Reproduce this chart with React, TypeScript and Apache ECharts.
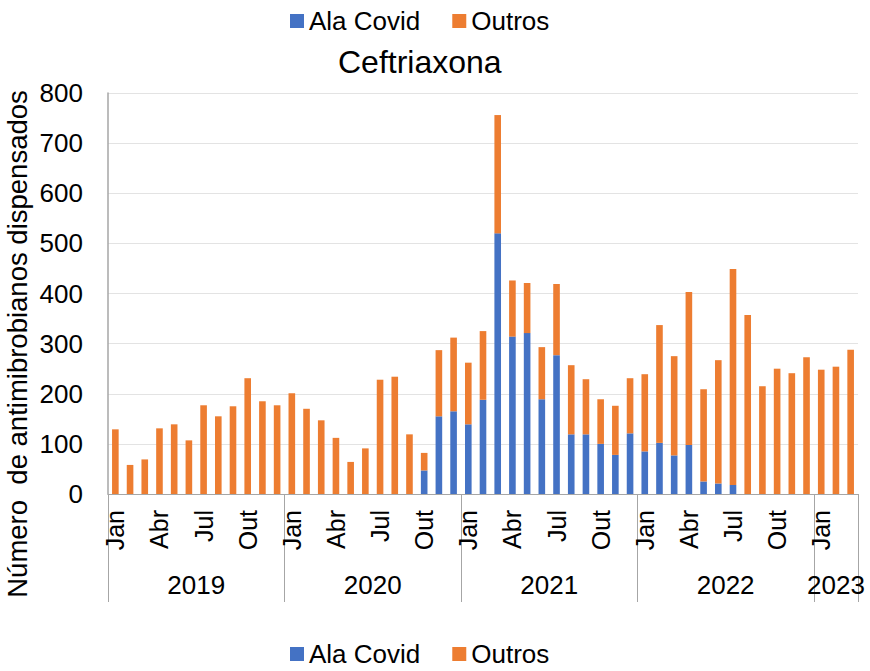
import React, { useEffect, useRef } from "react";
import * as echarts from "echarts";

// Monthly ceftriaxone dispensing, Jan 2019 – Mar 2023
const monthNames = ["Jan", "Fev", "Mar", "Abr", "Mai", "Jun", "Jul", "Ago", "Set", "Out", "Nov", "Dez"];
const years = ["2019", "2020", "2021", "2022", "2023"];
const monthsPerYear = [12, 12, 12, 12, 3];

const alaCovid = [
  0, 0, 0, 0, 0, 0, 0, 0, 0, 0, 0, 0,
  0, 0, 0, 0, 0, 0, 0, 0, 0, 47, 155, 165,
  139, 188, 520, 314, 321, 189, 277, 119, 119, 100, 78, 121,
  85, 102, 77, 98, 25, 21, 18, 0, 0, 0, 0, 0,
  0, 0, 0,
];

const outros = [
  129, 58, 69, 131, 139, 107, 177, 155, 175, 231, 185, 177,
  201, 170, 147, 112, 64, 91, 228, 234, 119, 35, 132, 147,
  123, 137, 236, 112, 100, 104, 142, 138, 110, 89, 98, 110,
  154, 235, 198, 305, 184, 246, 431, 357, 215, 250, 241, 273,
  248, 254, 288,
];

const yTicks = { min: 0, max: 800, step: 100 };

const FONT = "'Liberation Sans', Arial, Helvetica, sans-serif";
const BLUE = "#4472C4";
const ORANGE = "#ED7D31";
const AXIS_GREY = "#a6a6a6";

export default function App() {
  const ref = useRef<HTMLDivElement>(null);

  useEffect(() => {
    if (!ref.current) return;
    const chart = echarts.init(ref.current, undefined, { renderer: "svg" });

    const categories: string[] = [];
    monthsPerYear.forEach((n, yi) => {
      for (let m = 0; m < n; m++) categories.push(`${monthNames[m]} ${years[yi]}`);
    });
    const total = categories.length;

    // year boundaries and centres on a 0..total value scale
    const boundaries: number[] = [0];
    const centres: number[] = [];
    monthsPerYear.forEach((n) => {
      const start = boundaries[boundaries.length - 1];
      centres.push(start + n / 2);
      boundaries.push(start + n);
    });

    const legendBase = {
      left: 285,
      icon: "rect",
      itemWidth: 14,
      itemHeight: 14,
      itemGap: 32,
      textStyle: { fontFamily: FONT, fontSize: 26, color: "#000" },
      data: ["Ala Covid", "Outros"],
    };

    chart.setOption({
      animation: false,
      backgroundColor: "#ffffff",
      textStyle: { fontFamily: FONT },
      title: {
        text: "Ceftriaxona",
        left: 333,
        top: 41,
        textStyle: { fontFamily: FONT, fontSize: 32, fontWeight: "normal", color: "#000" },
      },
      legend: [
        { ...legendBase, top: 3 },
        { ...legendBase, top: 636 },
      ],
      grid: { left: 108, right: 12, top: 93, bottom: 177, containLabel: false },
      xAxis: [
        {
          type: "category",
          data: categories,
          boundaryGap: true,
          axisLine: { show: true, lineStyle: { color: AXIS_GREY, width: 1 } },
          axisTick: { show: false },
          axisLabel: {
            interval: (index: number) => index % 3 === 0,
            formatter: (v: string) => v.split(" ")[0],
            rotate: 90,
            margin: 16,
            fontFamily: FONT,
            fontSize: 25,
            color: "#000",
          },
          splitLine: { show: false },
        },
        {
          type: "value",
          position: "bottom",
          min: 0,
          max: total,
          axisLine: { show: false },
          splitLine: { show: false },
          axisTick: {
            show: true,
            inside: false,
            length: 108,
            customValues: boundaries,
            lineStyle: { color: AXIS_GREY, width: 1 },
          },
          axisLabel: {
            customValues: centres,
            formatter: (v: number) => {
              const i = centres.findIndex((c) => Math.abs(c - v) < 1e-6);
              return i >= 0 ? years[i] : "";
            },
            margin: 78,
            fontFamily: FONT,
            fontSize: 26,
            color: "#000",
          },
        },
      ],
      yAxis: {
        type: "value",
        min: yTicks.min,
        max: yTicks.max,
        interval: yTicks.step,
        axisLine: { show: true, lineStyle: { color: AXIS_GREY, width: 1.5 } },
        axisTick: { show: false },
        axisLabel: { fontFamily: FONT, fontSize: 26, color: "#000", margin: 25 },
        splitLine: { show: true, lineStyle: { color: "#e3e3e3", width: 1 } },
      },
      graphic: [
        {
          type: "text",
          x: 17,
          y: 344,
          rotation: Math.PI / 2,
          style: {
            text: "Número  de antimibrobianos dispensados",
            fontFamily: FONT,
            fontSize: 27.5,
            fill: "#000",
            align: "center",
            verticalAlign: "middle",
          },
        },
      ],
      series: [
        {
          name: "Ala Covid",
          type: "bar",
          stack: "total",
          barWidth: "45%",
          itemStyle: { color: BLUE },
          data: alaCovid,
        },
        {
          name: "Outros",
          type: "bar",
          stack: "total",
          barWidth: "45%",
          itemStyle: { color: ORANGE },
          data: outros,
        },
      ],
    });

    return () => chart.dispose();
  }, []);

  return (
    <div
      ref={ref}
      style={{ position: "fixed", left: 0, top: 0, width: 870, height: 671, background: "#fff" }}
    />
  );
}
